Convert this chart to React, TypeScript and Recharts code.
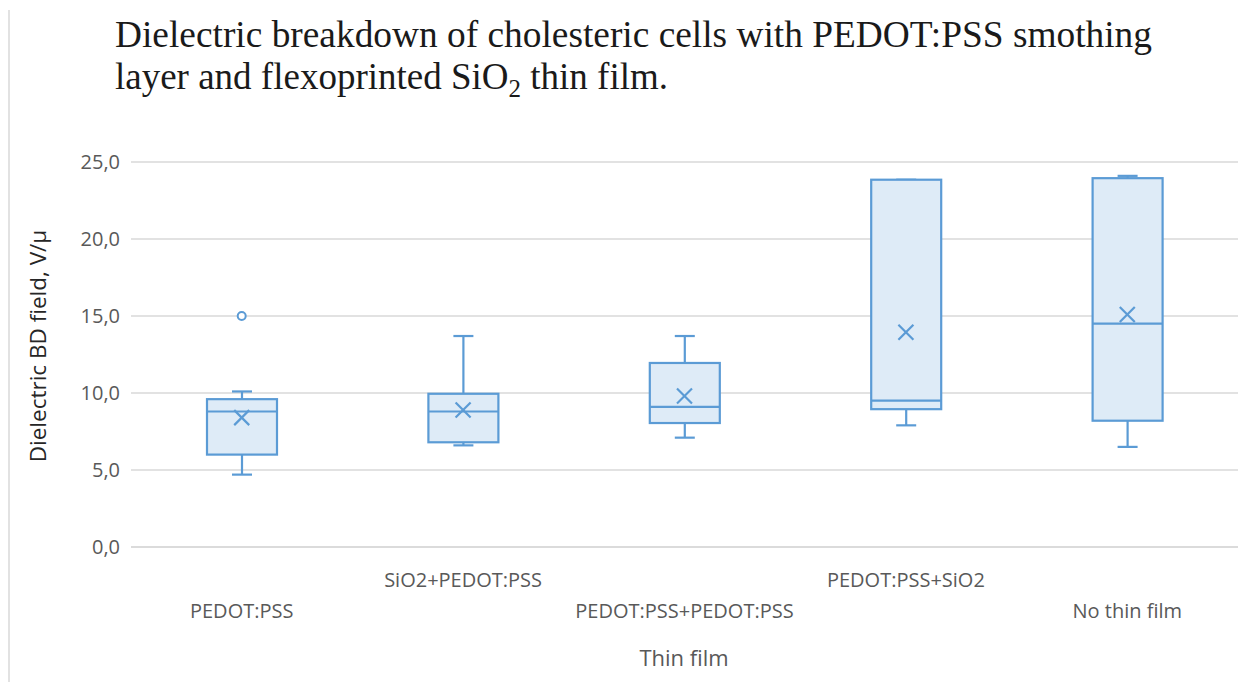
import React from "react";
import {
  ComposedChart,
  Bar,
  Scatter,
  XAxis,
  YAxis,
  CartesianGrid,
} from "recharts";

const categories = [
  "PEDOT:PSS",
  "SiO2+PEDOT:PSS",
  "PEDOT:PSS+PEDOT:PSS",
  "PEDOT:PSS+SiO2",
  "No thin film",
];
const minVals = [4.7, 6.6, 7.1, 7.9, 6.5];
const q1Vals = [6.0, 6.8, 8.05, 8.95, 8.2];
const medianVals = [8.8, 8.8, 9.1, 9.5, 14.5];
const q3Vals = [9.6, 9.95, 11.95, 23.85, 23.95];
const maxVals = [10.1, 13.7, 13.7, 23.85, 24.1];
const meanVals = [8.4, 8.9, 9.8, 13.95, 15.1];
const outlierVals: (number | null)[] = [15.0, null, null, null, null];
const yTicks = [0, 5, 10, 15, 20, 25];

const BLUE = "#5B9BD5";
const FILL = "#DEEBF7";
const GRAY_TEXT = "#595959";
const SANS = "'Open Sans', sans-serif";

const data = categories.map((name, i) => ({
  name,
  min: minVals[i],
  q1: q1Vals[i],
  median: medianVals[i],
  q3: q3Vals[i],
  max: maxVals[i],
  mean: meanVals[i],
  outlier: outlierVals[i],
}));

// whole box + whiskers drawn from the range bar [min, max]
function BoxShape(props: any) {
  const { x, y, width, height, payload } = props;
  if (x == null || height == null) return null;
  const top = Math.min(y, y + height);
  const h = Math.abs(height);
  const range = payload.max - payload.min;
  const ppu = range > 0 ? h / range : 0;
  const toY = (v: number) => top + (payload.max - v) * ppu;
  const cx = x + width / 2;
  const cap = 10;
  const yQ1 = toY(payload.q1);
  const yQ3 = toY(payload.q3);
  const yMed = toY(payload.median);
  const yMin = toY(payload.min);
  const yMax = toY(payload.max);
  return (
    <g stroke={BLUE} strokeWidth={2.2} fill="none">
      <line x1={cx} x2={cx} y1={yMax} y2={yQ3} />
      <line x1={cx - cap} x2={cx + cap} y1={yMax} y2={yMax} />
      <line x1={cx} x2={cx} y1={yQ1} y2={yMin} />
      <line x1={cx - cap} x2={cx + cap} y1={yMin} y2={yMin} />
      <rect x={x} y={yQ3} width={width} height={yQ1 - yQ3} fill={FILL} />
      <line x1={x} x2={x + width} y1={yMed} y2={yMed} />
    </g>
  );
}

function MeanMarker(props: any) {
  const { cx, cy } = props;
  if (cx == null || cy == null || isNaN(cy)) return null;
  const s = 7.5;
  return (
    <g stroke={BLUE} strokeWidth={2.2}>
      <line x1={cx - s} y1={cy - s} x2={cx + s} y2={cy + s} />
      <line x1={cx - s} y1={cy + s} x2={cx + s} y2={cy - s} />
    </g>
  );
}

function OutlierMarker(props: any) {
  const { cx, cy, payload } = props;
  if (payload == null || payload.outlier == null || cy == null || isNaN(cy)) return null;
  return <circle cx={cx} cy={cy} r={4} fill="#fff" stroke={BLUE} strokeWidth={2} />;
}

function CategoryTick(props: any) {
  const { x, y, payload, index } = props;
  const upper = index % 2 === 1;
  return (
    <text
      x={x}
      y={y + (upper ? 32 : 63)}
      textAnchor="middle"
      fill={GRAY_TEXT}
      fontFamily={SANS}
      fontSize={20}
    >
      {payload.value}
    </text>
  );
}

export default function App() {
  return (
    <div
      style={{
        position: "absolute",
        left: 0,
        top: 0,
        width: 1252,
        height: 682,
        background: "#fff",
      }}
    >
      <ComposedChart
        width={1252}
        height={682}
        data={data}
        margin={{ top: 162, right: 14, bottom: 75, left: 71 }}
      >
        <CartesianGrid vertical={false} stroke="#D9D9D9" strokeWidth={1.5} />
        <XAxis
          dataKey="name"
          interval={0}
          height={60}
          axisLine={{ stroke: "#D9D9D9", strokeWidth: 1.5 }}
          tickLine={false}
          tick={<CategoryTick />}
        />
        <YAxis
          width={60}
          domain={[0, 25]}
          ticks={yTicks}
          axisLine={false}
          tickLine={false}
          tickSize={9}
          tickMargin={2}
          tickFormatter={(v: number) => v.toFixed(1).replace(".", ",")}
          tick={{ fill: GRAY_TEXT, fontFamily: SANS, fontSize: 20 }}
        />
        <Bar
          dataKey={(d: any) => [d.min, d.max]}
          barSize={70}
          shape={<BoxShape />}
          isAnimationActive={false}
        />
        <Scatter dataKey="mean" shape={<MeanMarker />} isAnimationActive={false} />
        <Scatter dataKey="outlier" shape={<OutlierMarker />} isAnimationActive={false} />
      </ComposedChart>
      <svg
        width={1252}
        height={682}
        style={{ position: "absolute", left: 0, top: 0, pointerEvents: "none" }}
      >
        <line x1={9} y1={10} x2={9} y2={682} stroke="#D9D9D9" strokeWidth={1.5} />
        <g fontFamily="'Liberation Serif', 'Times New Roman', serif" fontSize={37} fill="#1a1a1a">
          <text x={115} y={47} textLength={1037} lengthAdjust="spacingAndGlyphs">
            Dielectric breakdown of cholesteric cells with PEDOT:PSS smothing
          </text>
          <text x={115} y={89}>
            layer and flexoprinted SiO
            <tspan dy={8} fontSize={25}>2</tspan>
            <tspan dy={-8}> thin film.</tspan>
          </text>
        </g>
        <text
          transform="translate(46,346) rotate(-90)"
          textAnchor="middle"
          fontFamily={SANS}
          fontSize={22.5}
          fill="#262626"
        >
          Dielectric BD field, V/μ
        </text>
        <text
          x={684}
          y={666}
          textAnchor="middle"
          fontFamily={SANS}
          fontSize={22}
          fill={GRAY_TEXT}
        >
          Thin film
        </text>
      </svg>
    </div>
  );
}
